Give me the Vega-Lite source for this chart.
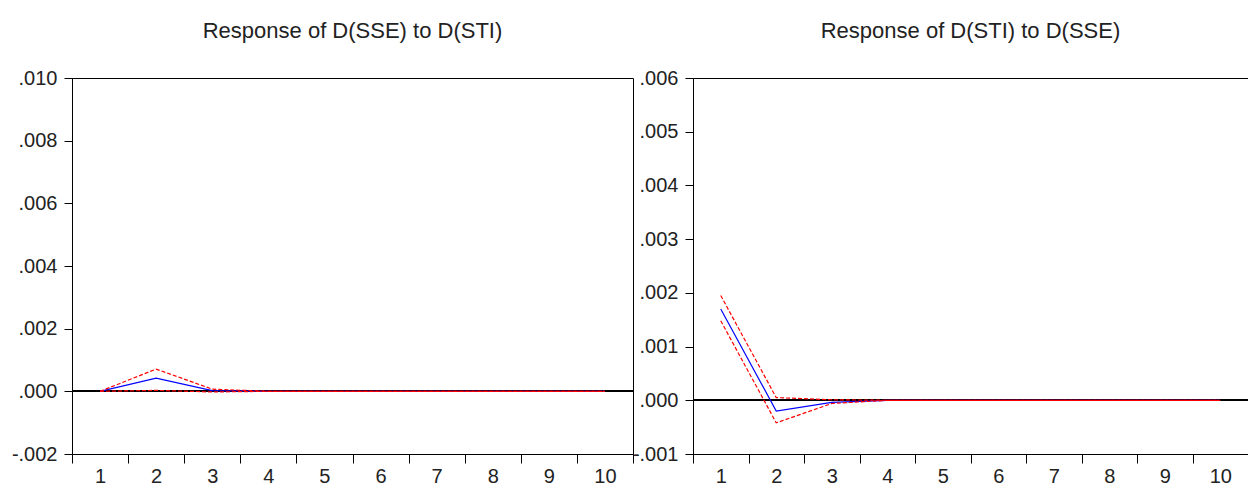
{
  "$schema": "https://vega.github.io/schema/vega-lite/v6.json",
  "padding": {"left": 10, "top": 19, "right": 0, "bottom": 0},
  "spacing": 60,
  "bounds": "flush",
  "background": "white",
  "config": {
    "font": "Liberation Sans",
    "view": {"stroke": "black", "strokeWidth": 1},
    "axis": {"domainColor": "black", "tickColor": "black", "labelColor": "#222", "grid": false, "title": null, "labelFontSize": 20, "labelFont": "Liberation Sans", "labelFlush": false, "labelOverlap": false},
    "title": {"fontSize": 22, "fontWeight": "normal", "font": "Liberation Sans", "color": "#222", "baseline": "alphabetic", "offset": 25}
  },
  "datasets": {
    "sse_sti": [
      {"period": 1, "series": "irf", "value": 0}, {"period": 1, "series": "upper", "value": 0}, {"period": 1, "series": "lower", "value": 0},
      {"period": 2, "series": "irf", "value": 0.00042}, {"period": 2, "series": "upper", "value": 0.00071}, {"period": 2, "series": "lower", "value": 0.00003},
      {"period": 3, "series": "irf", "value": 0.00002}, {"period": 3, "series": "upper", "value": 0.00007}, {"period": 3, "series": "lower", "value": -0.00002},
      {"period": 4, "series": "irf", "value": 0}, {"period": 4, "series": "upper", "value": 0}, {"period": 4, "series": "lower", "value": 0},
      {"period": 5, "series": "irf", "value": 0}, {"period": 5, "series": "upper", "value": 0}, {"period": 5, "series": "lower", "value": 0},
      {"period": 6, "series": "irf", "value": 0}, {"period": 6, "series": "upper", "value": 0}, {"period": 6, "series": "lower", "value": 0},
      {"period": 7, "series": "irf", "value": 0}, {"period": 7, "series": "upper", "value": 0}, {"period": 7, "series": "lower", "value": 0},
      {"period": 8, "series": "irf", "value": 0}, {"period": 8, "series": "upper", "value": 0}, {"period": 8, "series": "lower", "value": 0},
      {"period": 9, "series": "irf", "value": 0}, {"period": 9, "series": "upper", "value": 0}, {"period": 9, "series": "lower", "value": 0},
      {"period": 10, "series": "irf", "value": 0}, {"period": 10, "series": "upper", "value": 0}, {"period": 10, "series": "lower", "value": 0}
    ],
    "sti_sse": [
      {"period": 1, "series": "irf", "value": 0.0017}, {"period": 1, "series": "upper", "value": 0.00195}, {"period": 1, "series": "lower", "value": 0.00148},
      {"period": 2, "series": "irf", "value": -0.0002}, {"period": 2, "series": "upper", "value": 0.00005}, {"period": 2, "series": "lower", "value": -0.00042},
      {"period": 3, "series": "irf", "value": -0.00004}, {"period": 3, "series": "upper", "value": 0.00001}, {"period": 3, "series": "lower", "value": -0.00006},
      {"period": 4, "series": "irf", "value": 0}, {"period": 4, "series": "upper", "value": 0}, {"period": 4, "series": "lower", "value": 0},
      {"period": 5, "series": "irf", "value": 0}, {"period": 5, "series": "upper", "value": 0}, {"period": 5, "series": "lower", "value": 0},
      {"period": 6, "series": "irf", "value": 0}, {"period": 6, "series": "upper", "value": 0}, {"period": 6, "series": "lower", "value": 0},
      {"period": 7, "series": "irf", "value": 0}, {"period": 7, "series": "upper", "value": 0}, {"period": 7, "series": "lower", "value": 0},
      {"period": 8, "series": "irf", "value": 0}, {"period": 8, "series": "upper", "value": 0}, {"period": 8, "series": "lower", "value": 0},
      {"period": 9, "series": "irf", "value": 0}, {"period": 9, "series": "upper", "value": 0}, {"period": 9, "series": "lower", "value": 0},
      {"period": 10, "series": "irf", "value": 0}, {"period": 10, "series": "upper", "value": 0}, {"period": 10, "series": "lower", "value": 0}
    ]
  },
  "hconcat": [
    {
      "width": 561,
      "height": 376,
      "title": "Response of D(SSE) to D(STI)",
      "data": {"name": "sse_sti"},
      "encoding": {
        "x": {"field": "period", "type": "quantitative", "scale": {"domain": [0.5, 10.5], "nice": false, "zero": false},
          "axis": {"values": [0.5, 1.5, 2.5, 3.5, 4.5, 5.5, 6.5, 7.5, 8.5, 9.5, 10.5], "labelExpr": "datum.value < 10 ? format(datum.value + 0.5, 'd') : ''", "labelOffset": 28, "tickSize": 9, "labelPadding": 3}},
        "y": {"field": "value", "type": "quantitative", "scale": {"domain": [-0.002, 0.010], "nice": false, "zero": false},
          "axis": {"values": [-0.002, 0, 0.002, 0.004, 0.006, 0.008, 0.010], "labelExpr": "(datum.value < 0 ? '-' : '') + replace(format(abs(datum.value), '.3f'), '0.', '.')", "tickSize": 8, "labelPadding": 7}}
      },
      "layer": [
        {"mark": {"type": "rule", "color": "black", "strokeWidth": 1}, "encoding": {"x": null, "y": {"datum": 0, "type": "quantitative"}}},
        {"transform": [{"filter": "datum.series == 'irf'"}], "mark": {"type": "line", "color": "#0000ff", "strokeWidth": 1.2}},
        {"transform": [{"filter": "datum.series != 'irf'"}], "mark": {"type": "line", "color": "#ff0000", "strokeWidth": 1.2, "strokeDash": [4, 2]}, "encoding": {"detail": {"field": "series"}}}
      ]
    },
    {
      "width": 555,
      "height": 376,
      "title": "Response of D(STI) to D(SSE)",
      "data": {"name": "sti_sse"},
      "encoding": {
        "x": {"field": "period", "type": "quantitative", "scale": {"domain": [0.5, 10.5], "nice": false, "zero": false},
          "axis": {"values": [0.5, 1.5, 2.5, 3.5, 4.5, 5.5, 6.5, 7.5, 8.5, 9.5, 10.5], "labelExpr": "datum.value < 10 ? format(datum.value + 0.5, 'd') : ''", "labelOffset": 27.75, "tickSize": 9, "labelPadding": 3}},
        "y": {"field": "value", "type": "quantitative", "scale": {"domain": [-0.001, 0.006], "nice": false, "zero": false},
          "axis": {"values": [-0.001, 0, 0.001, 0.002, 0.003, 0.004, 0.005, 0.006], "labelExpr": "(datum.value < 0 ? '-' : '') + replace(format(abs(datum.value), '.3f'), '0.', '.')", "tickSize": 8, "labelPadding": 7}}
      },
      "layer": [
        {"mark": {"type": "rule", "color": "black", "strokeWidth": 1}, "encoding": {"x": null, "y": {"datum": 0, "type": "quantitative"}}},
        {"transform": [{"filter": "datum.series == 'irf'"}], "mark": {"type": "line", "color": "#0000ff", "strokeWidth": 1.2}},
        {"transform": [{"filter": "datum.series != 'irf'"}], "mark": {"type": "line", "color": "#ff0000", "strokeWidth": 1.2, "strokeDash": [4, 2]}, "encoding": {"detail": {"field": "series"}}}
      ]
    }
  ]
}
